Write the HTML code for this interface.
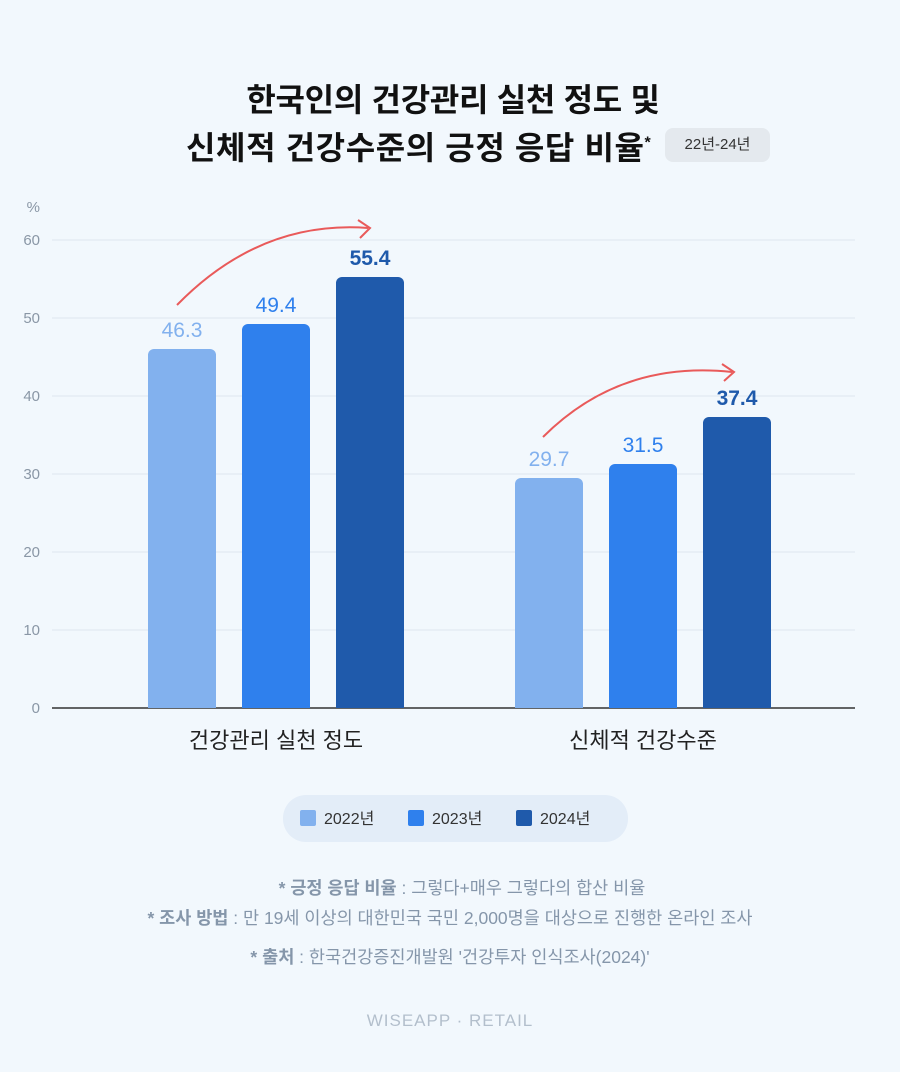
<!DOCTYPE html>
<html><head><meta charset="utf-8"><style>
body{margin:0;width:900px;height:1072px;background:#f2f8fd;font-family:"Liberation Sans","Noto Sans CJK KR",sans-serif;position:relative;overflow:hidden}
.t{position:absolute;white-space:nowrap}
</style></head><body>
<div class="t" style="left:0;width:906px;top:75px;text-align:center;font-size:32px;font-weight:bold;color:#111;letter-spacing:-0.3px">한국인의 건강관리 실천 정도 및</div>
<div class="t" style="left:186px;top:123px;font-size:32px;font-weight:bold;color:#111;letter-spacing:0.6px">신체적 건강수준의 긍정 응답 비율<sup style="font-size:16px">*</sup></div>
<div class="t" style="left:665px;top:128px;width:105px;height:34px;line-height:34px;border-radius:8px;background:#e4e9ee;text-align:center;font-size:15px;color:#333">22년-24년</div>
<svg width="900" height="1072" style="position:absolute;left:0;top:0" font-family="Liberation Sans, Noto Sans CJK KR, sans-serif">
<g stroke="#dfe6ee" stroke-width="1">
<line x1="52" x2="855" y1="240" y2="240"/><line x1="52" x2="855" y1="318" y2="318"/><line x1="52" x2="855" y1="396" y2="396"/><line x1="52" x2="855" y1="474" y2="474"/><line x1="52" x2="855" y1="552" y2="552"/><line x1="52" x2="855" y1="630" y2="630"/>
</g>
<line x1="52" x2="855" y1="708" y2="708" stroke="#333" stroke-width="1.5"/>
<g fill="#8a97a6" font-size="15" text-anchor="end">
<text x="40" y="212">%</text><text x="40" y="245">60</text><text x="40" y="323">50</text><text x="40" y="401">40</text><text x="40" y="479">30</text><text x="40" y="557">20</text><text x="40" y="635">10</text><text x="40" y="713">0</text>
</g>
<path d="M148 708V355a6 6 0 0 1 6-6h56a6 6 0 0 1 6 6V708z" fill="#82b1ee"/>
<path d="M242 708V330a6 6 0 0 1 6-6h56a6 6 0 0 1 6 6V708z" fill="#2f80ed"/>
<path d="M336 708V283a6 6 0 0 1 6-6h56a6 6 0 0 1 6 6V708z" fill="#1f5aab"/>
<path d="M515 708V484a6 6 0 0 1 6-6h56a6 6 0 0 1 6 6V708z" fill="#82b1ee"/>
<path d="M609 708V470a6 6 0 0 1 6-6h56a6 6 0 0 1 6 6V708z" fill="#2f80ed"/>
<path d="M703 708V423a6 6 0 0 1 6-6h56a6 6 0 0 1 6 6V708z" fill="#1f5aab"/>
<g font-size="21" text-anchor="middle">
<text x="182" y="337" fill="#82b1ee">46.3</text><text x="276" y="312" fill="#2f80ed">49.4</text><text x="370" y="265" fill="#1f5aab" font-weight="bold">55.4</text>
<text x="549" y="466" fill="#82b1ee">29.7</text><text x="643" y="452" fill="#2f80ed">31.5</text><text x="737" y="405" fill="#1f5aab" font-weight="bold">37.4</text>
</g>
<g fill="none" stroke="#e95a5a" stroke-width="2">
<path d="M177 305Q260 220 368 228"/><path d="M358 220L370 228L360 238"/>
<path d="M543 437Q620 360 732 372"/><path d="M722 364L734 372L724 381"/>
</g>
<g font-size="22" fill="#222" text-anchor="middle"><text x="276" y="748">건강관리 실천 정도</text><text x="643" y="748">신체적 건강수준</text></g>
<rect x="283" y="795" width="345" height="47" rx="23" fill="#e3edf8"/>
<g font-size="16" fill="#333">
<rect x="300" y="810" width="16" height="16" rx="2" fill="#82b1ee"/><text x="324" y="824">2022년</text>
<rect x="408" y="810" width="16" height="16" rx="2" fill="#2f80ed"/><text x="432" y="824">2023년</text>
<rect x="516" y="810" width="16" height="16" rx="2" fill="#1f5aab"/><text x="540" y="824">2024년</text>
</g>
<g font-size="17.5" fill="#8596aa" text-anchor="middle">
<text x="462" y="894"><tspan font-weight="bold">* 긍정 응답 비율</tspan> : 그렇다+매우 그렇다의 합산 비율</text>
<text x="450" y="924"><tspan font-weight="bold">* 조사 방법</tspan> : 만 19세 이상의 대한민국 국민 2,000명을 대상으로 진행한 온라인 조사</text>
<text x="450" y="963"><tspan font-weight="bold">* 출처</tspan> : 한국건강증진개발원 '건강투자 인식조사(2024)'</text>
<text x="450" y="1026" font-size="17" fill="#b3bfcc" letter-spacing="1">WISEAPP · RETAIL</text>
</g>
</svg>
</body></html>
